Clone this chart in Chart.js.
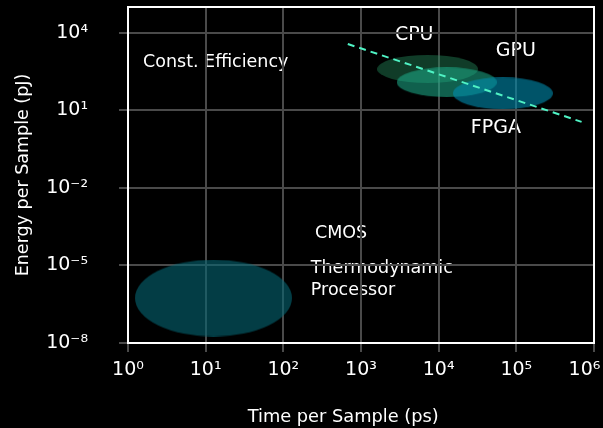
<!DOCTYPE html>
<html>
<head>
<meta charset="utf-8">
<script src="https://cdn.jsdelivr.net/npm/chart.js@4.4.0/dist/chart.umd.min.js"></script>
<style>
  html, body { margin: 0; padding: 0; background: #000; }
</style>
</head>
<body>
<canvas id="chart" width="603" height="428"></canvas>
<script>
// processor regions, centre of each blob (time in ps, energy in pJ)
const regionNames = ['Thermodynamic Processor', 'CPU', 'GPU', 'FPGA'];
const regionTime = [12.6, 7200, 12700, 67000];
const regionEnergy = [5.5e-7, 400, 123, 46];

// constant efficiency guide
const effTime = [676, 692000];
const effEnergy = [3700, 3.6];

// axis ticks
const xTicks = [1, 10, 100, 1e3, 1e4, 1e5, 1e6];
const xTickLabels = ['10⁰', '10¹', '10²', '10³', '10⁴', '10⁵', '10⁶'];
const yTicks = [1e-8, 1e-5, 1e-2, 10, 1e4];
const yTickLabels = ['10⁻⁸', '10⁻⁵', '10⁻²', '10¹', '10⁴'];

// text notes on the plot
const noteText = ['CPU', 'GPU', 'FPGA', 'Const. Efficiency', 'CMOS', 'Thermodynamic', 'Processor'];
const noteTime = [2730, 54500, 25900, 1.56, 255, 226, 226];
const noteEnergy = [8220, 1970, 2.04, 738, 1.74e-4, 7.66e-6, 1.07e-6];

const FONT = "'DejaVu Sans', sans-serif";
const noteSize = [19, 19, 19, 17.5, 17.5, 17.5, 17.5];

// blob shapes (rx, ry in px) and fills
const blobRx = [78.5, 50.5, 50, 50];
const blobRy = [38.5, 14, 15, 16];
const blobColor = ['rgba(5,102,115,0.6)', 'rgba(40,150,100,0.4)', 'rgba(30,175,140,0.55)', 'rgba(0,140,175,0.6)'];

function ellipse(rx, ry, color) {
  const c = document.createElement('canvas');
  c.width = Math.round(rx * 2);
  c.height = Math.round(ry * 2);
  const g = c.getContext('2d');
  g.fillStyle = color;
  g.beginPath();
  g.ellipse(c.width / 2, c.height / 2, rx, ry, 0, 0, Math.PI * 2);
  g.fill();
  return c;
}

// text notes, drawn under the grid like the original
const notesPlugin = {
  id: 'notes',
  beforeDraw(chart) {
    const { ctx, scales: { x, y } } = chart;
    ctx.save();
    ctx.fillStyle = '#fff';
    ctx.textAlign = 'left';
    ctx.textBaseline = 'middle';
    noteText.forEach((t, i) => {
      ctx.font = noteSize[i] + 'px ' + FONT;
      ctx.fillText(t, x.getPixelForValue(noteTime[i]), y.getPixelForValue(noteEnergy[i]));
    });
    ctx.restore();
  }
};

// white frame round the plot area
const framePlugin = {
  id: 'frame',
  afterDatasetsDraw(chart) {
    const { ctx, chartArea: a } = chart;
    ctx.save();
    ctx.strokeStyle = '#fff';
    ctx.lineWidth = 2;
    ctx.strokeRect(a.left, a.top, a.right - a.left, a.bottom - a.top);
    ctx.restore();
  }
};

const datasets = [{
  label: 'Const. Efficiency',
  data: effTime.map((t, i) => ({ x: t, y: effEnergy[i] })),
  showLine: true,
  borderColor: '#4ff2c4',
  borderWidth: 2,
  borderDash: [7, 5],
  pointRadius: 0
}];
// last region drawn on top, so push in reverse
for (let i = regionNames.length - 1; i >= 0; i--) {
  datasets.push({
    label: regionNames[i],
    data: [{ x: regionTime[i], y: regionEnergy[i] }],
    pointStyle: ellipse(blobRx[i], blobRy[i], blobColor[i]),
    pointRadius: 3
  });
}

const gridColor = '#4a4a4a';

new Chart(document.getElementById('chart'), {
  type: 'scatter',
  data: { datasets },
  options: {
    responsive: false,
    devicePixelRatio: 1,
    animation: false,
    events: [],
    layout: { padding: { top: 7, right: 9, left: 0, bottom: 0 } },
    plugins: { legend: { display: false }, tooltip: { enabled: false } },
    scales: {
      x: {
        type: 'logarithmic',
        min: 1,
        max: 1e6,
        afterBuildTicks: s => { s.ticks = xTicks.map(v => ({ value: v })); },
        afterFit: s => { s.height = 85; s.paddingLeft = 0; s.paddingRight = 0; },
        ticks: {
          color: '#fff',
          font: { family: FONT, size: 19 },
          padding: 7,
          maxRotation: 0,
          autoSkip: false,
          // the last label sits a little left of its tick, as in the original
          callback: (v, i) => i === xTickLabels.length - 1 ? xTickLabels[i] + '\u2003' : xTickLabels[i]
        },
        grid: { color: gridColor, lineWidth: 2, tickLength: 9, tickColor: gridColor },
        border: { color: '#fff', width: 2 },
        title: {
          display: true,
          // trailing spaces nudge the title left of the plot centre, as in the original
          text: 'Time per Sample (ps)\u2003\u2003',
          color: '#fff',
          font: { family: FONT, size: 17.8 },
          padding: { top: 0, bottom: 0 }
        }
      },
      y: {
        type: 'logarithmic',
        min: 1e-8,
        max: 1e5,
        afterBuildTicks: s => { s.ticks = yTicks.map(v => ({ value: v })); },
        afterFit: s => { s.width = 128; s.paddingTop = 0; s.paddingBottom = 0; },
        ticks: {
          color: '#fff',
          font: { family: FONT, size: 19 },
          padding: 31,
          autoSkip: false,
          callback: (v, i) => yTickLabels[i]
        },
        grid: { color: gridColor, lineWidth: 2, tickLength: 9, tickColor: gridColor },
        border: { color: '#fff', width: 2 },
        title: {
          display: true,
          text: 'Energy per Sample (pJ)',
          color: '#fff',
          font: { family: FONT, size: 17.5 },
          padding: { top: 13, bottom: 0 }
        }
      }
    }
  },
  plugins: [notesPlugin, framePlugin]
});
</script>
</body>
</html>
